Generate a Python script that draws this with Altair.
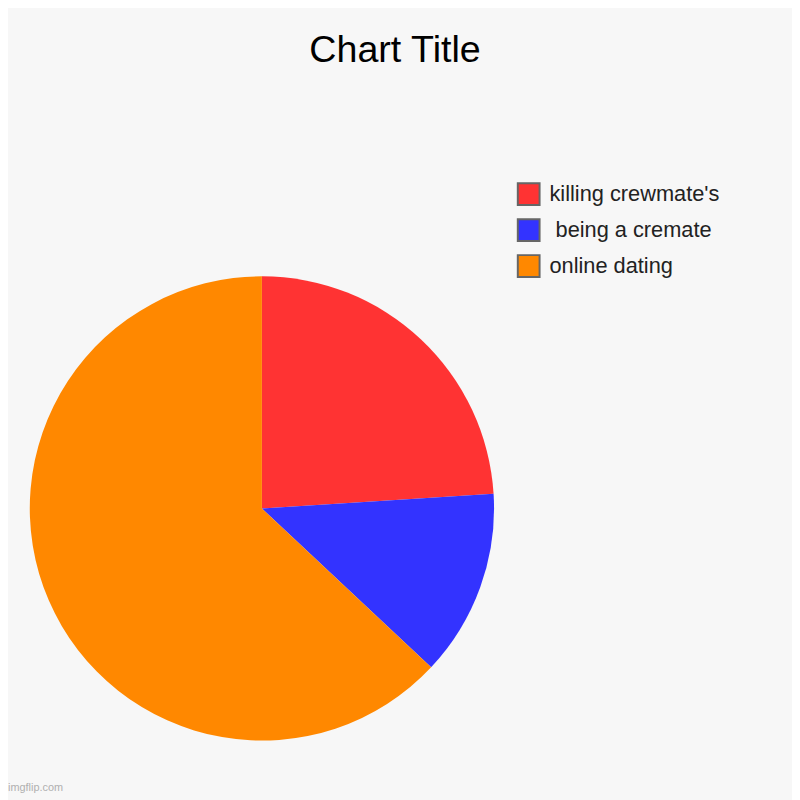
import altair as alt
import pandas as pd

categories = ["killing crewmate's", "\u200b\u00a0being a cremate", "online dating"]
values = [24, 13, 63]
colors = ["#FF3333", "#3333FF", "#FF8800"]

df = pd.DataFrame({"category": categories, "value": values, "order": [0, 1, 2]})

FONT = "Liberation Sans"

pie = alt.Chart(df).mark_arc(radius=234.5, stroke=None).encode(
    theta=alt.Theta("value:Q", stack=True),
    order=alt.Order("order:Q", sort="ascending"),
    x=alt.value(256.5),
    y=alt.value(501.5),
    color=alt.Color(
        "category:N",
        scale=alt.Scale(domain=categories, range=colors),
        legend=alt.Legend(
            title=None,
            orient="none",
            legendX=514,
            legendY=172,
            symbolType="square",
            symbolSize=484,
            symbolStrokeColor="#666666",
            symbolStrokeWidth=2,
            symbolOpacity=1,
            labelFont=FONT,
            labelFontSize=22,
            labelColor="#222222",
            labelOffset=9,
            rowPadding=6.3,
            padding=0,
            labelLimit=400,
        ),
    ),
)

title_df = pd.DataFrame({"t": ["Chart Title"]})
title = alt.Chart(title_df).mark_text(
    font=FONT, fontSize=38, color="#000000", align="center", baseline="alphabetic"
).encode(text="t:N", x=alt.value(391), y=alt.value(51))

wm_df = pd.DataFrame({"t": ["imgflip.com"]})
wm = alt.Chart(wm_df).mark_text(
    font=FONT, fontSize=11, color="#b0b0b0", align="left", baseline="alphabetic"
).encode(text="t:N", x=alt.value(0), y=alt.value(787))

chart = alt.layer(pie, title, wm).properties(
    width=792,
    height=792,
    autosize=alt.AutoSizeParams(type="none"),
    padding=0,
    background="#f7f7f7",
).configure_view(stroke=None)

chart.save("out.html", embed_options={"renderer": "svg", "actions": False})
